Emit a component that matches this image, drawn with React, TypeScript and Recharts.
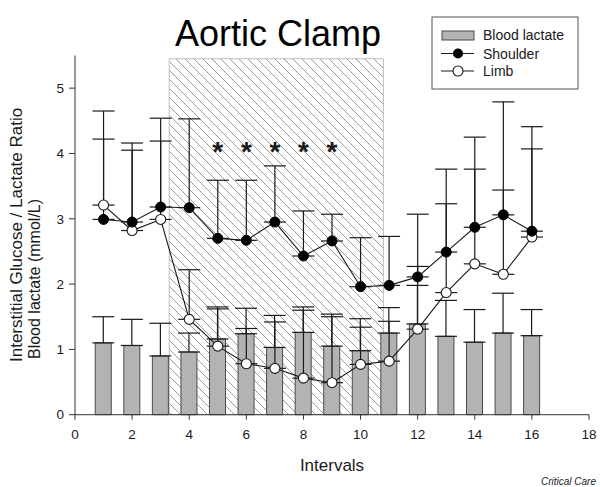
import { ComposedChart, Bar, Line, Scatter, XAxis, YAxis, ErrorBar, ReferenceArea } from 'recharts';

// interval numbers on the x axis
const intervals = [1, 2, 3, 4, 5, 6, 7, 8, 9, 10, 11, 12, 13, 14, 15, 16];

// blood lactate bars (mmol/L) and the top of their error bars
const bloodLactate = [1.10, 1.06, 0.90, 0.96, 1.16, 1.24, 1.03, 1.26, 1.05, 0.98, 1.25, 1.39, 1.20, 1.11, 1.25, 1.21];
const bloodLactateTop = [1.50, 1.46, 1.40, 1.25, 1.65, 1.63, 1.52, 1.65, 1.54, 1.47, 1.64, 1.98, 1.75, 1.61, 1.86, 1.61];

// glucose / lactate ratio, shoulder and limb
const shoulder = [2.99, 2.95, 3.18, 3.17, 2.70, 2.67, 2.95, 2.43, 2.66, 1.96, 1.98, 2.11, 2.49, 2.87, 3.06, 2.81];
const shoulderTop = [4.22, 4.16, 4.54, 4.53, 3.59, 3.59, 3.81, 3.12, 3.07, 2.71, 2.73, 3.07, 3.76, 4.25, 4.79, 4.41];
const limb = [3.21, 2.82, 2.99, 1.46, 1.05, 0.78, 0.71, 0.56, 0.49, 0.77, 0.82, 1.31, 1.87, 2.31, 2.15, 2.72];
const limbTop = [4.65, 4.05, 4.19, 2.22, 1.62, 1.32, 1.42, 1.60, 1.50, 1.34, 1.43, 2.27, 3.23, 3.76, 3.44, 4.07];

// significance marks
const starIntervals = [5, 6, 7, 8, 9];
const starLevel = 4.1;

// clamp period (shaded)
const clampStart = 3.3;
const clampEnd = 10.8;
const clampTop = 5.45;

const xTicks = [0, 2, 4, 6, 8, 10, 12, 14, 16, 18];
const yTicks = [0, 1, 2, 3, 4, 5];

const chartData = intervals.map((x, i) => ({
  x,
  lactate: bloodLactate[i],
  lactateErr: [0, +(bloodLactateTop[i] - bloodLactate[i]).toFixed(2)],
  shoulder: shoulder[i],
  shoulderErr: [0, +(shoulderTop[i] - shoulder[i]).toFixed(2)],
  limb: limb[i],
  limbErr: [0, +(limbTop[i] - limb[i]).toFixed(2)],
}));

const starData = starIntervals.map((x) => ({ x, star: starLevel }));

const FONT = '"Liberation Sans", Arial, sans-serif';
const INK = '#1a1a1a';

const Star = (props: any) => (
  <text
    x={props.cx}
    y={props.cy + 14}
    textAnchor="middle"
    fontSize={28}
    fontWeight="bold"
    fill={INK}
    fontFamily={FONT}
  >
    *
  </text>
);

const App = () => {
  return (
    <div style={{ position: 'absolute', left: 0, top: 0, width: 600, height: 487, background: '#fff', fontFamily: FONT }}>
      <ComposedChart
        width={600}
        height={487}
        data={chartData}
        margin={{ top: 55.5, right: 11, left: 15, bottom: 32.3 }}
      >
        <defs>
          <pattern id="hatch" patternUnits="userSpaceOnUse" width={9} height={9}>
            <path d="M-1,-1 L10,10 M-1,8 L1,10 M8,-1 L10,1" stroke="#9c9c9c" strokeWidth={1} />
          </pattern>
        </defs>
        <XAxis
          dataKey="x"
          type="number"
          domain={[0, 18]}
          ticks={xTicks}
          height={40}
          tickSize={5}
          tickMargin={10}
          stroke="#333"
          tick={{ fill: INK, fontSize: 13.5, fontFamily: FONT }}
        />
        <YAxis
          type="number"
          domain={[0, 5.5]}
          ticks={yTicks}
          width={60}
          tickSize={6}
          tickMargin={5}
          stroke="#333"
          tick={{ fill: INK, fontSize: 13.5, fontFamily: FONT }}
        />
        <ReferenceArea
          x1={clampStart}
          x2={clampEnd}
          y1={0}
          y2={clampTop}
          fill="url(#hatch)"
          fillOpacity={1}
          stroke="#bdbdbd"
          strokeWidth={1}
        />
        <Bar dataKey="lactate" barSize={16} fill="#b3b3b3" stroke="#4a4a4a" strokeWidth={1} isAnimationActive={false}>
          <ErrorBar dataKey="lactateErr" width={11} stroke={INK} strokeWidth={1.2} direction="y" />
        </Bar>
        {/* error whiskers first, so the markers sit on top of them */}
        <Line dataKey="limb" stroke="none" dot={false} activeDot={false} legendType="none" isAnimationActive={false}>
          <ErrorBar dataKey="limbErr" width={11} stroke={INK} strokeWidth={1.2} direction="y" />
        </Line>
        <Line dataKey="shoulder" stroke="none" dot={false} activeDot={false} legendType="none" isAnimationActive={false}>
          <ErrorBar dataKey="shoulderErr" width={11} stroke={INK} strokeWidth={1.2} direction="y" />
        </Line>
        <Line
          dataKey="limb"
          stroke={INK}
          strokeWidth={1.1}
          dot={{ r: 5, fill: '#fff', stroke: INK, strokeWidth: 1.1 }}
          activeDot={false}
          isAnimationActive={false}
        />
        <Line
          dataKey="shoulder"
          stroke={INK}
          strokeWidth={1.1}
          dot={{ r: 5, fill: '#000', stroke: '#000', strokeWidth: 1 }}
          activeDot={false}
          isAnimationActive={false}
        />
        <Scatter data={starData} dataKey="star" shape={<Star />} isAnimationActive={false} />
      </ComposedChart>

      <svg
        width={600}
        height={487}
        style={{ position: 'absolute', left: 0, top: 0, pointerEvents: 'none' }}
        fontFamily={FONT}
      >
        <text x={278} y={46} textAnchor="middle" fontSize={36} fill="#000">
          Aortic Clamp
        </text>
        <text x={332} y={471} textAnchor="middle" fontSize={17} fill={INK}>
          Intervals
        </text>
        <text x={541} y={485} fontSize={10} fontStyle="italic" fill={INK}>
          Critical Care
        </text>
        <text transform="translate(22,362) rotate(-90)" fontSize={17} fill={INK}>
          Interstitial Glucose / Lactate Ratio
        </text>
        <text transform="translate(40,359) rotate(-90)" fontSize={16} fill={INK}>
          Blood lactate (mmol/L)
        </text>

        {/* legend */}
        <rect x={432} y={17} width={146} height={72} fill="#fff" stroke="#555" strokeWidth={1} />
        <rect x={442} y={31} width={32} height={9} fill="#b3b3b3" stroke="#4a4a4a" strokeWidth={1} />
        <text x={483} y={40} fontSize={14} fill={INK}>Blood lactate</text>
        <line x1={441} y1={53.5} x2={474} y2={53.5} stroke={INK} strokeWidth={1.1} />
        <circle cx={458} cy={53.5} r={5} fill="#000" />
        <text x={483} y={58.5} fontSize={14} fill={INK}>Shoulder</text>
        <line x1={441} y1={71} x2={474} y2={71} stroke={INK} strokeWidth={1.1} />
        <circle cx={458} cy={71} r={5} fill="#fff" stroke={INK} strokeWidth={1.1} />
        <text x={483} y={76} fontSize={14} fill={INK}>Limb</text>
      </svg>
    </div>
  );
};

export default App;
